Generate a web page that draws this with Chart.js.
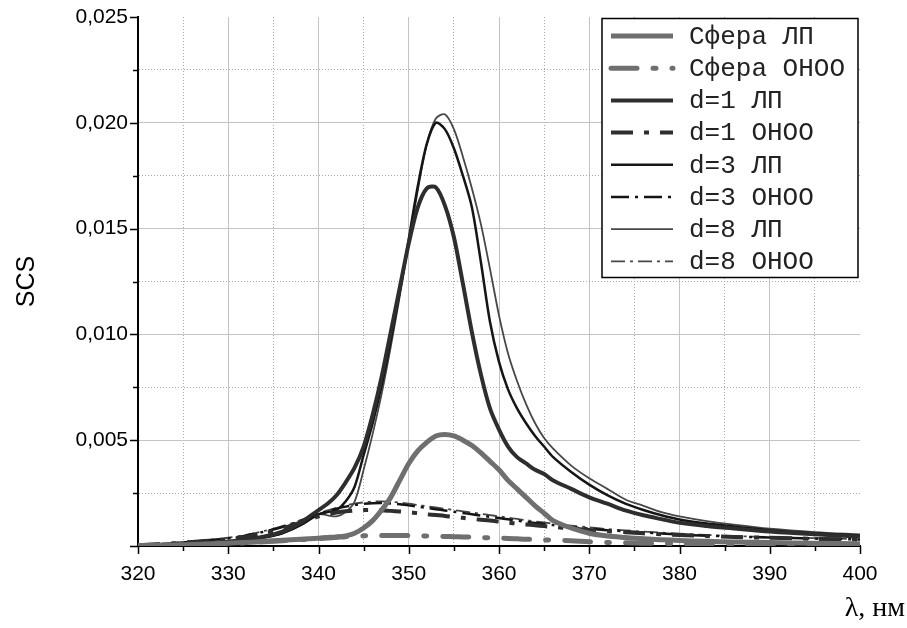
<!DOCTYPE html>
<html>
<head>
<meta charset="utf-8">
<script src="https://cdn.jsdelivr.net/npm/chart.js@4.4.1/dist/chart.umd.min.js"></script>
<style>
  body { margin: 0; background: #fff; }
  #wrap { width: 907px; height: 628px; }
</style>
</head>
<body>
<div id="wrap"><canvas id="chart" width="907" height="628"></canvas></div>
<script>
// wavelength grid, nm
const wavelength = [320, 322, 324, 326, 328, 330, 332, 334, 336, 338,
    340, 341, 342, 343, 344, 345, 346, 347, 348, 349,
    350, 351, 352, 353, 354, 355, 356, 357, 358, 359,
    360, 361, 362, 363, 364, 365, 366, 368, 370, 372,
    374, 376, 378, 380, 383, 386, 390, 395, 400];

const sphereLP = [0.00002, 0.00003, 0.00005, 0.00007, 0.0001, 0.00013, 0.00017, 0.00022, 0.00027, 0.00032,
    0.00037, 0.0004, 0.00043, 0.00048, 0.0006, 0.00085, 0.0012, 0.0017, 0.0023, 0.0031,
    0.0039, 0.0045, 0.0049, 0.0052, 0.00527, 0.0052, 0.005, 0.00475, 0.0044, 0.004,
    0.0036, 0.0031, 0.0027, 0.0023, 0.0019, 0.00155, 0.0012, 0.00085, 0.0006, 0.00047,
    0.0004, 0.00034, 0.0003, 0.00026, 0.00022, 0.00019, 0.00016, 0.00013, 0.00011];

const sphereOH = [0.00001, 0.00002, 0.00004, 0.00006, 0.00008, 0.00011, 0.00015, 0.0002, 0.00025, 0.0003,
    0.00035, 0.00038, 0.00041, 0.00044, 0.00046, 0.00048, 0.0005, 0.0005, 0.0005, 0.0005,
    0.00049, 0.00048, 0.00047, 0.00046, 0.00045, 0.00044, 0.00043, 0.00042, 0.0004, 0.00039,
    0.00037, 0.00036, 0.00034, 0.00032, 0.00031, 0.00029, 0.00028, 0.00025, 0.0002, 0.00017,
    0.00015, 0.00013, 0.00012, 0.00011, 0.0001, 0.00009, 0.00008, 0.00007, 0.00006];

const d1LP = [0.00003, 0.00005, 0.00008, 0.00012, 0.00016, 0.00021, 0.0003, 0.00045, 0.00068, 0.0011,
    0.0017, 0.002, 0.0024, 0.003, 0.0037, 0.0047, 0.0062, 0.008, 0.0101, 0.0122,
    0.0143, 0.016, 0.0169, 0.01695, 0.0161, 0.0146, 0.0124, 0.0101, 0.0081, 0.0065,
    0.0055, 0.0047, 0.0042, 0.0039, 0.0036, 0.0034, 0.0031, 0.0027, 0.0023, 0.002,
    0.00168, 0.00145, 0.00127, 0.0011, 0.00095, 0.00083, 0.00068, 0.00055, 0.00045];

const d1OH = [0.00004, 0.00008, 0.00013, 0.00019, 0.00025, 0.00031, 0.00043, 0.0006, 0.00083, 0.0011,
    0.0014, 0.0015, 0.00158, 0.00164, 0.00168, 0.0017, 0.0017, 0.00169, 0.00166, 0.00163,
    0.0016, 0.00155, 0.0015, 0.00146, 0.00142, 0.00137, 0.00133, 0.00128, 0.00124, 0.0012,
    0.00115, 0.0011, 0.00106, 0.00102, 0.00098, 0.00094, 0.0009, 0.00083, 0.00076, 0.0007,
    0.00065, 0.0006, 0.00056, 0.00052, 0.00047, 0.00043, 0.00039, 0.00034, 0.0003];

const d3LP = [0.00003, 0.00005, 0.00008, 0.00012, 0.00016, 0.0002, 0.00028, 0.0004, 0.0006, 0.00098,
    0.0015, 0.0016, 0.0017, 0.0021, 0.0028, 0.0043, 0.0058, 0.0076, 0.0097, 0.012,
    0.0145, 0.017, 0.019, 0.02, 0.0197, 0.0188, 0.0175, 0.016, 0.0134, 0.0106,
    0.0087, 0.0074, 0.0065, 0.0058, 0.0052, 0.0047, 0.0042, 0.0035, 0.0029, 0.0024,
    0.002, 0.0017, 0.00145, 0.00125, 0.00106, 0.00092, 0.00075, 0.0006, 0.0005];

const d3OH = [0.00004, 0.00008, 0.00014, 0.0002, 0.00028, 0.00036, 0.0005, 0.00068, 0.0009, 0.00118,
    0.0015, 0.00163, 0.00176, 0.00186, 0.00194, 0.00199, 0.00202, 0.00203, 0.00201, 0.00197,
    0.00192, 0.00186, 0.0018, 0.00174, 0.00168, 0.00162, 0.00156, 0.0015, 0.00144, 0.00138,
    0.00132, 0.00126, 0.0012, 0.00114, 0.00109, 0.00104, 0.00099, 0.0009, 0.00082, 0.00075,
    0.00069, 0.00064, 0.00059, 0.00054, 0.00049, 0.00045, 0.0004, 0.00035, 0.00031];

const d8LP = [0.00003, 0.00005, 0.00008, 0.00012, 0.00016, 0.0002, 0.00028, 0.0004, 0.0006, 0.00098,
    0.0015, 0.00145, 0.0014, 0.0016, 0.0021, 0.0036, 0.0053, 0.0072, 0.0094, 0.0118,
    0.0143, 0.0168, 0.019, 0.0202, 0.0204, 0.0197, 0.0184, 0.0169, 0.0152, 0.0131,
    0.0109, 0.0091, 0.0078, 0.0067, 0.0058, 0.0051, 0.0046, 0.0038, 0.0032, 0.0027,
    0.0022, 0.0019, 0.0016, 0.0014, 0.00118, 0.00101, 0.00082, 0.00066, 0.00055];

const d8OH = [0.00004, 0.00009, 0.00015, 0.00022, 0.0003, 0.00039, 0.00053, 0.00071, 0.00094, 0.00122,
    0.00155, 0.00168, 0.00181, 0.00192, 0.002, 0.00206, 0.0021, 0.00211, 0.00209, 0.00205,
    0.002, 0.00194, 0.00188, 0.00182, 0.00176, 0.0017, 0.00164, 0.00158, 0.00152, 0.00146,
    0.0014, 0.00134, 0.00128, 0.00122, 0.00116, 0.00111, 0.00106, 0.00096, 0.00088, 0.0008,
    0.00074, 0.00068, 0.00063, 0.00058, 0.00052, 0.00047, 0.00042, 0.00037, 0.00033];

const seriesLabels = ['Сфера ЛП', 'Сфера ОНОО', 'd=1 ЛП', 'd=1 ОНОО', 'd=3 ЛП', 'd=3 ОНОО', 'd=8 ЛП', 'd=8 ОНОО'];
const seriesValues = [sphereLP, sphereOH, d1LP, d1OH, d3LP, d3OH, d8LP, d8OH];

const styles = [
    { color: '#6f6f6f', width: 5, dash: [], cap: 'butt' },
    { color: '#6f6f6f', width: 5, dash: [26, 16, 3, 16], cap: 'round' },
    { color: '#2e2e2e', width: 4, dash: [], cap: 'butt' },
    { color: '#2e2e2e', width: 4, dash: [22, 11, 5, 11], cap: 'butt' },
    { color: '#151515', width: 2.5, dash: [], cap: 'butt' },
    { color: '#151515', width: 2.5, dash: [18, 6, 3, 6], cap: 'butt' },
    { color: '#474747', width: 1.8, dash: [], cap: 'butt' },
    { color: '#474747', width: 1.8, dash: [14, 5, 3, 5], cap: 'butt' }
];

const datasets = seriesValues.map((vals, i) => ({
    label: seriesLabels[i],
    data: wavelength.map((x, j) => ({ x: x, y: vals[j] })),
    borderColor: styles[i].color,
    borderWidth: styles[i].width,
    borderDash: styles[i].dash,
    borderCapStyle: styles[i].cap,
    pointRadius: 0,
    fill: false,
    tension: 0.3
}));

const isMinorX = v => Math.round(v) % 10 !== 0;
const yIndex = v => Math.round(v / 0.0025);

// tick marks drawn by hand so minor ones can be shorter
const tickMarks = {
    id: 'tickMarks',
    afterDraw(chart) {
        const { ctx, scales: { x, y } } = chart;
        ctx.save();
        ctx.strokeStyle = '#000';
        ctx.lineWidth = 1.5;
        ctx.beginPath();
        x.ticks.forEach(t => {
            const px = Math.round(x.getPixelForValue(t.value)) + 0.5;
            const len = isMinorX(t.value) ? 5 : 8;
            ctx.moveTo(px, x.top);
            ctx.lineTo(px, x.top + len);
        });
        y.ticks.forEach(t => {
            const py = Math.round(y.getPixelForValue(t.value)) + 0.5;
            const len = yIndex(t.value) % 2 ? 5 : 8;
            ctx.moveTo(y.right, py);
            ctx.lineTo(y.right - len, py);
        });
        ctx.stroke();

        ctx.fillStyle = '#000';
        ctx.font = '28px "Liberation Serif"';
        ctx.textAlign = 'right';
        ctx.textBaseline = 'middle';
        ctx.fillText('λ, нм', 905, 609);
        ctx.restore();
    }
};

const legendBox = {
    id: 'legendBox',
    afterDraw(chart) {
        const ctx = chart.ctx;
        ctx.save();
        ctx.fillStyle = '#fff';
        ctx.fillRect(602, 18, 256, 259);
        ctx.strokeStyle = '#000';
        ctx.lineWidth = 1.5;
        ctx.strokeRect(602, 18.5, 256, 259);
        chart.data.datasets.forEach((ds, i) => {
            const yy = 36 + i * 32.2;
            ctx.strokeStyle = ds.borderColor;
            ctx.lineWidth = ds.borderWidth;
            ctx.lineCap = ds.borderCapStyle;
            ctx.setLineDash(ds.borderDash);
            ctx.beginPath();
            ctx.moveTo(611, yy);
            ctx.lineTo(673, yy);
            ctx.stroke();
            ctx.setLineDash([]);
            ctx.fillStyle = '#222';
            ctx.font = '26px "Liberation Mono"';
            ctx.textAlign = 'left';
            ctx.textBaseline = 'middle';
            ctx.fillText(ds.label, 689, yy + 1);
        });
        ctx.restore();
    }
};

new Chart(document.getElementById('chart'), {
    type: 'line',
    data: { datasets: datasets },
    options: {
        responsive: false,
        animation: false,
        layout: { padding: { left: 0, right: 47, top: 17, bottom: 0 } },
        plugins: { legend: { display: false }, tooltip: { enabled: false } },
        scales: {
            x: {
                type: 'linear',
                min: 320,
                max: 400,
                afterFit: s => { s.height = 82; },
                ticks: {
                    stepSize: 5,
                    autoSkip: false,
                    maxRotation: 0,
                    padding: 16,
                    color: '#000',
                    font: { family: '"Liberation Sans", Arial', size: 21 },
                    callback: v => isMinorX(v) ? '' : String(v)
                },
                grid: {
                    drawTicks: false,
                    lineWidth: 1,
                    color: c => (c.tick && (c.tick.value <= 320 || c.tick.value >= 400)) ? 'rgba(0,0,0,0)'
                        : (c.tick && isMinorX(c.tick.value) ? '#a9a9a9' : '#c4c4c4')
                },
                border: {
                    color: '#000',
                    width: 2,
                    dash: c => (c.tick && isMinorX(c.tick.value)) ? [1, 2] : []
                }
            },
            y: {
                min: 0,
                max: 0.025,
                afterFit: s => { s.width = 138; s.paddingTop = 0; s.paddingBottom = 0; },
                title: {
                    display: true,
                    text: 'SCS',
                    color: '#000',
                    font: { family: '"Liberation Sans", Arial', size: 25 },
                    padding: { top: 12, bottom: 0 }
                },
                ticks: {
                    stepSize: 0.0025,
                    autoSkip: false,
                    padding: 10,
                    color: '#000',
                    font: { family: '"Liberation Sans", Arial', size: 21 },
                    callback: v => {
                        const k = yIndex(v);
                        return (k > 0 && k % 2 === 0) ? (k * 0.0025).toFixed(3).replace('.', ',') : '';
                    }
                },
                grid: {
                    drawTicks: false,
                    lineWidth: 1,
                    color: c => {
                        if (!c.tick) return '#c4c4c4';
                        const k = yIndex(c.tick.value);
                        if (k <= 0 || k >= 10) return 'rgba(0,0,0,0)';
                        return k % 2 ? '#a9a9a9' : '#c4c4c4';
                    }
                },
                border: {
                    color: '#000',
                    width: 2,
                    dash: c => (c.tick && yIndex(c.tick.value) % 2) ? [1, 2] : []
                }
            }
        }
    },
    plugins: [tickMarks, legendBox]
});
</script>
</body>
</html>
